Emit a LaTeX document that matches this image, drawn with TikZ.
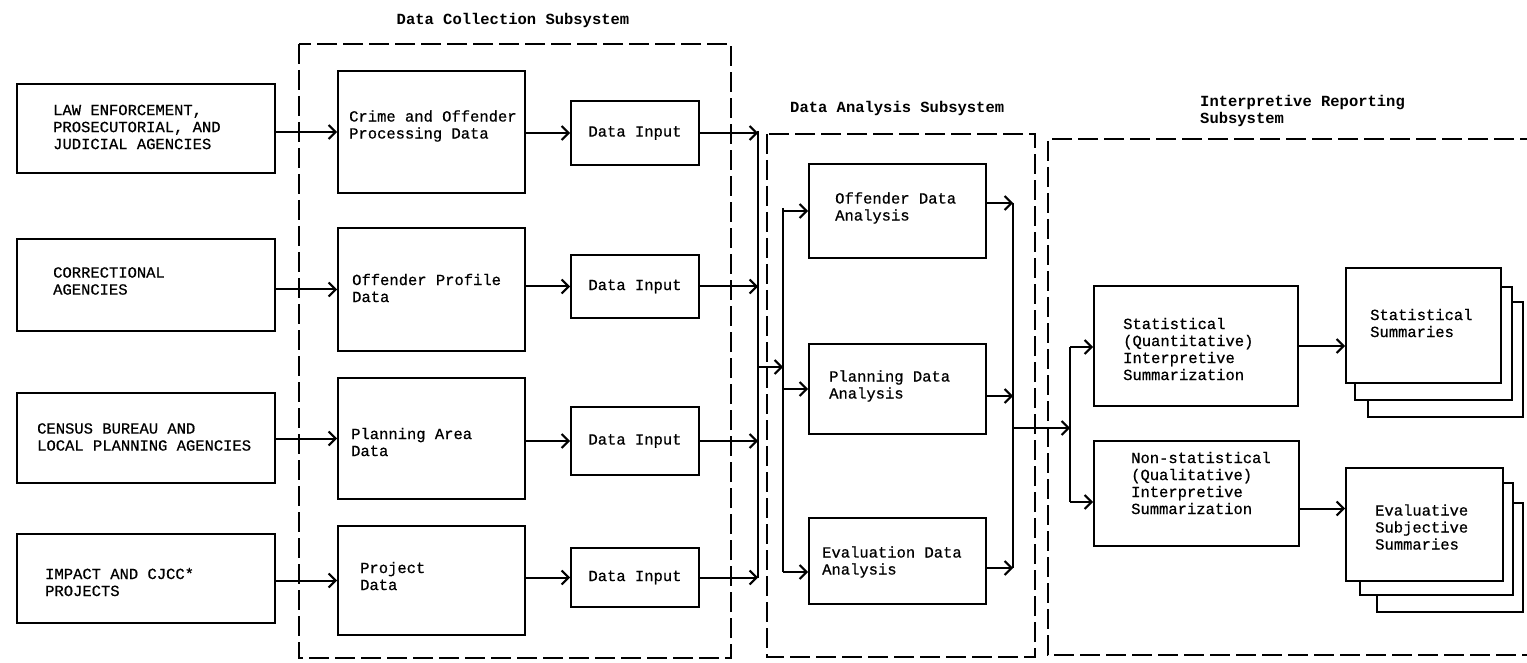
\documentclass[tikz,border=0pt]{standalone}
\usepackage{fontspec}
\setmonofont{Liberation Mono}[UprightFeatures={FakeBold=0.6}]
\usetikzlibrary{arrows.meta,calc}
\begin{document}
\begin{tikzpicture}[x=1pt,y=-1pt,
  box/.style={draw, line width=2pt, fill=white, inner sep=0pt, anchor=north west,
              font=\ttfamily\fontsize{15.5}{17}\selectfont},
  txt/.style={font=\ttfamily\fontsize{15.5}{17}\selectfont, align=left, inner sep=0pt, anchor=west},
  ttl/.style={font=\ttfamily\bfseries\fontsize{15.5}{17}\selectfont, align=left, inner sep=0pt},
  arr/.style={line width=2pt, -{Straight Barb[length=7pt,width=14pt]}},
  ln/.style={line width=2pt},
  dbox/.style={line width=1.8pt, dash pattern=on 20pt off 6pt},
  layer/.style={draw, line width=2pt, fill=white}
]
\useasboundingbox (0,0) rectangle (1527,663);

% dashed subsystem frames
\draw[dbox] (299,44) rectangle (731,658);
\draw[dbox] (767,134) rectangle (1035,657);
\draw[dbox] (1540,139) -- (1048,139) -- (1048,655) -- (1540,655);

% titles
\node[ttl, anchor=center] (tdc) at (513,20) {Data Collection Subsystem};
\node[ttl, anchor=west] (tda) at (790,108) {Data Analysis Subsystem};
\node[ttl, anchor=west] (tir) at (1200,111) {Interpretive Reporting\\Subsystem};

% source boxes
\node[box, minimum width=258pt, minimum height=89pt] (s1) at (16,83) {};
\node[box, minimum width=258pt, minimum height=92pt] (s2) at (16,238) {};
\node[box, minimum width=258pt, minimum height=90pt] (s3) at (16,392) {};
\node[box, minimum width=258pt, minimum height=89pt] (s4) at (16,533) {};
\node[txt] (s1t) at (53,127) {LAW ENFORCEMENT,\\PROSECUTORIAL, AND\\JUDICIAL AGENCIES};
\node[txt] (s2t) at (53,281) {CORRECTIONAL\\AGENCIES};
\node[txt] (s3t) at (37,437) {CENSUS BUREAU AND\\LOCAL PLANNING AGENCIES};
\node[txt] (s4t) at (45,582) {IMPACT AND CJCC*\\PROJECTS};

% collection boxes
\node[box, minimum width=187pt, minimum height=122pt] (m1) at (337,70) {};
\node[box, minimum width=187pt, minimum height=123pt] (m2) at (337,227) {};
\node[box, minimum width=187pt, minimum height=121pt] (m3) at (337,377) {};
\node[box, minimum width=187pt, minimum height=109pt] (m4) at (337,525) {};
\node[txt] (m1t) at (349,126) {Crime and Offender\\Processing Data};
\node[txt] (m2t) at (352,288) {Offender Profile\\Data};
\node[txt] (m3t) at (351,442) {Planning Area\\Data};
\node[txt] (m4t) at (360,576) {Project\\Data};

% data input boxes
\node[box, minimum width=128pt, minimum height=64pt] (d1) at (570,100) {Data Input};
\node[box, minimum width=128pt, minimum height=63pt] (d2) at (570,254) {Data Input};
\node[box, minimum width=128pt, minimum height=68pt] (d3) at (570,406) {Data Input};
\node[box, minimum width=128pt, minimum height=59pt] (d4) at (570,547) {Data Input};

% analysis boxes
\node[box, minimum width=177pt, minimum height=94pt] (a1) at (808,163) {};
\node[box, minimum width=177pt, minimum height=90pt] (a2) at (808,343) {};
\node[box, minimum width=177pt, minimum height=86pt] (a3) at (808,517) {};
\node[txt] (a1t) at (835,208) {Offender Data\\Analysis};
\node[txt] (a2t) at (829,386) {Planning Data\\Analysis};
\node[txt] (a3t) at (822,562) {Evaluation Data\\Analysis};

% interpretive boxes
\node[box, minimum width=204pt, minimum height=120pt] (i1) at (1093,285) {};
\node[box, minimum width=205pt, minimum height=105pt] (i2) at (1093,440) {};
\node[txt] (i1t) at (1123,349) {Statistical\\(Quantitative)\\Interpretive\\Summarization};
\node[txt] (i2t) at (1131,483) {Non-statistical\\(Qualitative)\\Interpretive\\Summarization};

% stacked summaries
\draw[layer] (1368,302) rectangle (1523,417);
\draw[layer] (1355,287) rectangle (1512,400);
\node[box, minimum width=155pt, minimum height=115pt] (r1) at (1345,267) {};
\node[txt] (r1t) at (1370,323) {Statistical\\Summaries};
\draw[layer] (1377,503) rectangle (1523,612);
\draw[layer] (1360,483) rectangle (1513,595);
\node[box, minimum width=157pt, minimum height=113pt] (r2) at (1345,467) {};
\node[txt] (r2t) at (1375,527) {Evaluative\\Subjective\\Summaries};

% sources -> collection
\draw[arr] (s1.east |- m1.west) -- (m1.west);
\draw[arr] (s2.east |- m2.west) -- (m2.west);
\draw[arr] (s3.east |- m3.west) -- (m3.west);
\draw[arr] (s4.east |- m4.west) -- (m4.west);
% collection -> data input
\draw[arr] (m1.east |- d1.west) -- (d1.west);
\draw[arr] (m2.east |- d2.west) -- (d2.west);
\draw[arr] (m3.east |- d3.west) -- (d3.west);
\draw[arr] (m4.east |- d4.west) -- (d4.west);
% data input -> bus
\coordinate (busT) at (758,131);
\coordinate (busB) at (758,578);
\draw[ln] (busT) -- (busB);
\draw[arr] (d1.east) -- (d1.east -| busT);
\draw[arr] (d2.east) -- (d2.east -| busT);
\draw[arr] (d3.east) -- (d3.east -| busT);
\draw[arr] (d4.east) -- (d4.east -| busT);
% bus -> distribution
\coordinate (j1) at (758,367);
\coordinate (distT) at (783,208);
\coordinate (distB) at (783,572);
\draw[arr] (j1) -- (j1 -| distT);
\draw[ln] (distT) -- (distB);
\draw[arr] (distT |- a1.west) -- (a1.west);
\draw[arr] (distT |- a2.west) -- (a2.west);
\draw[arr] (distB) -- (distB -| a3.west);
% analysis -> collector
\coordinate (colT) at (1013,203);
\coordinate (colB) at (1013,568);
\coordinate (a2o) at ($(a2.east)+(0,7)$);
\draw[ln] (colT) -- (colB);
\draw[arr] (colT -| a1.east) -- (colT);
\draw[arr] (a2o) -- (a2o -| colT);
\draw[arr] (colB -| a3.east) -- (colB);
% collector -> interpretive
\coordinate (j2) at (1013,428);
\coordinate (ipT) at (1070,347);
\coordinate (ipB) at (1070,502);
\draw[arr] (j2) -- (j2 -| ipT);
\draw[ln] (ipT) -- (ipB);
\draw[arr] (ipT) -- (ipT -| i1.west);
\draw[arr] (ipB) -- (ipB -| i2.west);
% interpretive -> summaries
\coordinate (i2o) at ($(i2.east)+(0,15)$);
\draw[arr] (i1.east) -- (i1.east -| r1.west);
\draw[arr] (i2o) -- (i2o -| r2.west);
\end{tikzpicture}
\end{document}
